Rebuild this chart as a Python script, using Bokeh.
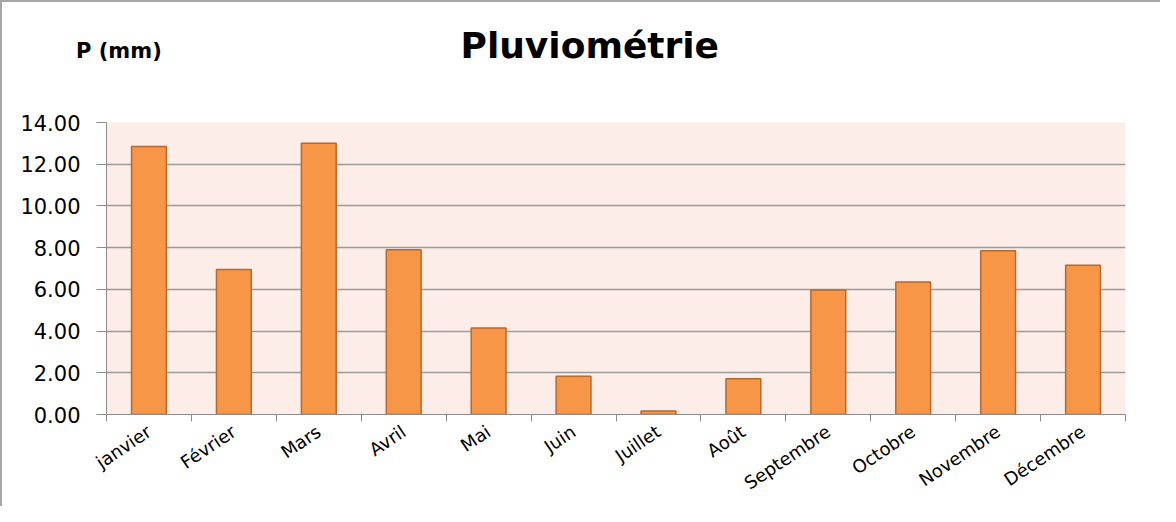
import numpy as np
from math import radians
from bokeh.plotting import figure
from bokeh.models import Range1d, FixedTicker, NumeralTickFormatter, LinearAxis
from bokeh.embed import file_html
from bokeh.resources import INLINE

months = ["janvier", "Février", "Mars", "Avril", "Mai", "Juin", "Juillet",
          "Août", "Septembre", "Octobre", "Novembre", "Décembre"]
rain = [12.85, 6.95, 13.00, 7.90, 4.15, 1.83, 0.17, 1.72, 5.97, 6.35, 7.85, 7.15]
y_ticks = [0, 2, 4, 6, 8, 10, 12, 14]
title_text = "Pluviométrie"
unit_text = "P (mm)"

x = [i + 0.5 for i in range(len(months))]
bounds = list(range(len(months) + 1))

p = figure(width=1160, height=506, output_backend="svg", toolbar_location=None,
           x_range=Range1d(0, len(months)), y_range=Range1d(0, 14))
p.min_border_left = 106
p.min_border_right = 35
p.min_border_top = 122
p.min_border_bottom = 92
p.background_fill_color = "#FDEDE8"
p.border_fill_color = None
p.outline_line_color = None
p.styles = {"box-shadow": "inset 2px 2px 0 0 #a6a6a6"}

p.vbar(x=x, top=rain, width=0.41, fill_color="#F79646",
       line_color="#B8672E", line_width=1.5)

xa = p.below[0]
ya = p.left[0]

# x axis
xa.ticker = FixedTicker(ticks=x, minor_ticks=bounds)
xa.major_label_overrides = {float(v): m for v, m in zip(x, months)}
xa.major_tick_line_color = None
xa.major_tick_out = 0
xa.major_tick_in = 0
xa.minor_tick_line_color = "#8c8c8c"
xa.minor_tick_out = 7
xa.minor_tick_in = 0
xa.axis_line_color = "#8c8c8c"
xa.major_label_orientation = radians(34)
xa.major_label_standoff = 8
xa.major_label_text_font = "DejaVu Sans"
xa.major_label_text_font_size = "18px"
xa.major_label_text_color = "#000000"

# y axis
ya.ticker = FixedTicker(ticks=y_ticks)
ya.formatter = NumeralTickFormatter(format="0.00")
ya.major_tick_out = 10
ya.major_tick_in = 0
ya.minor_tick_line_color = None
ya.axis_line_color = "#8c8c8c"
ya.major_tick_line_color = "#8c8c8c"
ya.major_label_standoff = 16
ya.major_label_text_font = "DejaVu Sans"
ya.major_label_text_font_size = "21px"
ya.major_label_text_color = "#000000"

p.xgrid.visible = False
p.ygrid.ticker = FixedTicker(ticks=y_ticks)
p.ygrid.grid_line_color = "#9a9a9a"
p.ygrid.grid_line_width = 1.5

# unit label, as the single tick label of a bare axis above the frame
unit_pos = 0.146
top_ax = LinearAxis(ticker=FixedTicker(ticks=[unit_pos]),
                    major_label_overrides={unit_pos: unit_text})
top_ax.axis_line_color = None
top_ax.major_tick_line_color = None
top_ax.minor_tick_line_color = None
top_ax.major_tick_out = 0
top_ax.major_tick_in = 0
top_ax.minor_tick_out = 0
top_ax.minor_tick_in = 0
top_ax.major_label_standoff = 60
top_ax.major_label_text_font = "DejaVu Sans"
top_ax.major_label_text_font_style = "bold"
top_ax.major_label_text_font_size = "21px"
top_ax.major_label_text_color = "#000000"
p.add_layout(top_ax, "above")

# title
p.title.text = title_text
p.title.align = "left"
p.title.offset = 354
p.title.text_font = "DejaVu Sans"
p.title.text_font_style = "bold"
p.title.text_font_size = "36px"
p.title.text_color = "#000000"
p.title.standoff = -60

open("out.html", "w").write(file_html(p, INLINE))
